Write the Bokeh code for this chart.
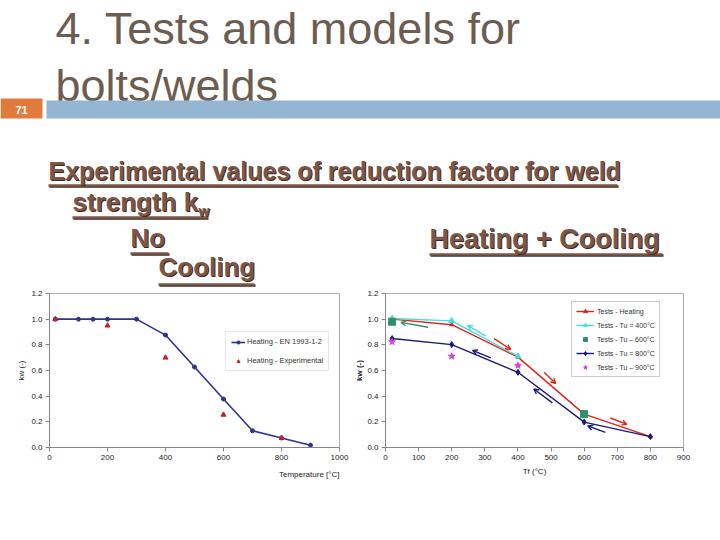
from bokeh.plotting import figure
from bokeh.layouts import column, row
from bokeh.models import Range1d, FixedTicker, PrintfTickFormatter, Title, Arrow, OpenHead, ColumnDataSource
from bokeh.core.properties import value
from bokeh.embed import file_html
from bokeh.resources import INLINE

FONT = "Liberation Sans"

# ---------------- data ----------------
# Left chart: no cooling
left_temp = [20, 100, 150, 200, 300, 400, 500, 600, 700, 800, 900]
left_kw_en = [1.0, 1.0, 1.0, 1.0, 1.0, 0.876, 0.627, 0.378, 0.130, 0.074, 0.018]
left_exp_temp = [20, 200, 400, 600, 800]
left_exp_kw = [1.0, 0.95, 0.70, 0.255, 0.075]

# Right chart: heating + cooling
heat_T = [20, 200, 400, 600, 800]
heat_k = [1.0, 0.957, 0.704, 0.26, 0.085]
tu400_T = [20, 200, 400]
tu400_k = [1.005, 0.987, 0.711]
tu600_T = [20, 600]
tu600_k = [0.98, 0.26]
tu800_T = [20, 200, 400, 600, 800]
tu800_k = [0.849, 0.802, 0.586, 0.198, 0.085]
tu900_T = [20, 200, 400]
tu900_k = [0.824, 0.711, 0.639]

# arrows (data coordinates)
red_arrow_xs = [328, 479, 679]
red_arrow_ys = [0.849, 0.586, 0.230]
red_arrow_xe = [378, 514, 729]
red_arrow_ye = [0.764, 0.499, 0.180]
navy_arrow_xs = [318, 504, 664]
navy_arrow_ys = [0.699, 0.348, 0.118]
navy_arrow_xe = [263, 448, 611]
navy_arrow_ye = [0.757, 0.456, 0.168]
cyan_arrow_xs = [303]
cyan_arrow_ys = [0.868]
cyan_arrow_xe = [248]
cyan_arrow_ye = [0.952]
green_arrow_xs = [129]
green_arrow_ys = [0.937]
green_arrow_xe = [47]
green_arrow_ye = [0.975]

left_xticks = [0, 200, 400, 600, 800, 1000]
right_xticks = [0, 100, 200, 300, 400, 500, 600, 700, 800, 900]
yticks = [0.0, 0.2, 0.4, 0.6, 0.8, 1.0, 1.2]

# ---------------- header (slide) ----------------
H = figure(width=720, height=289, x_range=Range1d(0, 720), y_range=Range1d(289, 0),
           output_backend="svg", toolbar_location=None, x_axis_type=None, y_axis_type=None,
           min_border=0, outline_line_color=None)
H.grid.visible = False


def base(yb, size):
    # place the alphabetic baseline of a text at yb
    return yb - 0.385 * size


title_col = "#6d5c52"
H.text(x=[55, 55], y=[base(45, 45), base(102, 45)], text=["4. Tests and models for", "bolts/welds"],
       text_font=value(FONT), text_font_size="45px", text_color=title_col,
       text_baseline="alphabetic")
H.quad(left=[0], right=[42], top=[98], bottom=[118], fill_color="#e07b3c", line_color=None)
H.quad(left=[46], right=[720], top=[100], bottom=[118], fill_color="#94b6d2", line_color=None)
H.text(x=[21], y=[109], text=["71"], text_font=value(FONT), text_font_size="11px",
       text_font_style="bold", text_color="white", text_align="center", text_baseline="middle")

sub_col = "#7d5646"
shadow_col = "#3b2b24"
sub_lines = [
    ("Experimental values of reduction factor for weld", 48, 180, 25, 617, 185),
    ("strength k", 72, 212, 26, 207, 217),
    ("No", 130, 248, 26, 168, 253),
    ("Cooling", 158, 277, 26, 254, 284),
    ("Heating + Cooling", 429, 249, 27, 662, 254),
]
for txt, x0, yb, fs, x1, yu in sub_lines:
    H.segment(x0=[x0 + 1], y0=[yu + 1], x1=[x1 + 1], y1=[yu + 1], line_color=shadow_col, line_width=2.5)
    H.segment(x0=[x0], y0=[yu], x1=[x1], y1=[yu], line_color=sub_col, line_width=2.5)
    H.text(x=[x0 + 1], y=[base(yb, fs) + 1], text=[txt], text_font=value(FONT), text_font_size=f"{fs}px",
           text_font_style="bold", text_color=shadow_col, text_baseline="alphabetic")
    H.text(x=[x0], y=[base(yb, fs)], text=[txt], text_font=value(FONT), text_font_size=f"{fs}px",
           text_font_style="bold", text_color=sub_col, text_baseline="alphabetic")
# subscript w
H.text(x=[198 + 1], y=[base(216, 14) + 1], text=["w"], text_font=value(FONT), text_font_size="14px",
       text_font_style="bold", text_color=shadow_col, text_baseline="alphabetic")
H.text(x=[198], y=[base(216, 14)], text=["w"], text_font=value(FONT), text_font_size="14px",
       text_font_style="bold", text_color=sub_col, text_baseline="alphabetic")


def style(p, xticks):
    p.xgrid.visible = False
    p.ygrid.visible = False
    p.outline_line_color = "#b0b0b0"
    for ax in (p.xaxis[0], p.yaxis[0]):
        ax.axis_line_color = "#868686"
        ax.major_tick_line_color = "#868686"
        ax.major_tick_out = 4
        ax.major_tick_in = 0
        ax.minor_tick_line_color = None
        ax.major_label_text_font = FONT
        ax.major_label_text_font_size = "8px"
        ax.major_label_text_color = "#222222"
        ax.axis_label_text_font = FONT
        ax.axis_label_text_font_size = "8px"
        ax.axis_label_text_font_style = "normal"
        ax.axis_label_text_color = "#222222"
    p.xaxis.ticker = FixedTicker(ticks=xticks)
    p.yaxis.ticker = FixedTicker(ticks=yticks)
    p.yaxis.formatter = PrintfTickFormatter(format="%.1f")
    p.xaxis.major_label_standoff = 3
    p.yaxis.major_label_standoff = 3


# ---------------- left chart ----------------
pL = figure(width=352, height=214, x_range=Range1d(0, 1000), y_range=Range1d(0, 1.2),
            output_backend="svg", toolbar_location=None,
            min_border_left=49, min_border_right=13, min_border_top=4, min_border_bottom=56)
style(pL, left_xticks)
pL.yaxis.axis_label = "kw (-)"
pL.yaxis.axis_label_standoff = 2
navyL = "#2e3588"
redL = "#c8202a"
pL.line(left_temp, left_kw_en, line_color=navyL, line_width=1.6, legend_label="Heating - EN 1993-1-2")
pL.scatter(left_temp, left_kw_en, marker="circle", size=4, color=navyL, legend_label="Heating - EN 1993-1-2")
pL.scatter(left_exp_temp, left_exp_kw, marker="triangle", size=5, color=redL, legend_label="Heating - Experimental")
tL = Title(text="Temperature [°C]", align="right", text_font=FONT, text_font_size="8px",
           text_font_style="normal", text_color="#222222")
pL.add_layout(tL, "below")
lg = pL.legend[0]
lg.location = (176, 76)
lg.label_text_font = FONT
lg.label_text_font_size = "7.5px"
lg.label_text_color = "#333333"
lg.glyph_width = 14
lg.glyph_height = 8
lg.label_height = 8
lg.label_standoff = 2
lg.spacing = 10
lg.padding = 5
lg.margin = 0
lg.border_line_color = "#d0d0d0"
lg.background_fill_alpha = 1.0

# ---------------- right chart ----------------
pR = figure(width=368, height=214, x_range=Range1d(0, 900), y_range=Range1d(0, 1.2),
            output_backend="svg", toolbar_location=None,
            min_border_left=32, min_border_right=37, min_border_top=4, min_border_bottom=51)
style(pR, right_xticks)
pR.yaxis.axis_label = "kw (-)"
pR.yaxis.axis_label_standoff = 0
pR.yaxis.axis_label_text_font_style = "bold"
pR.xaxis.axis_label = "Tf (°C)"
pR.xaxis.axis_label_standoff = 4

red = "#e3221c"
cyan = "#45dede"
green = "#2f8f6a"
navy = "#1a1a78"
magenta = "#d63fd6"

pR.line(heat_T, heat_k, line_color=red, line_width=1.4, legend_label="Tests - Heating")
pR.scatter(heat_T, heat_k, marker="triangle", size=4, color=red, legend_label="Tests - Heating")
pR.line(tu400_T, tu400_k, line_color=cyan, line_width=1.4, legend_label="Tests - Tu = 400°C")
pR.scatter(tu400_T, tu400_k, marker="triangle", size=6, color=cyan, legend_label="Tests - Tu = 400°C")
pR.scatter(tu600_T, tu600_k, marker="square", size=7, color=green, legend_label="Tests - Tu – 600°C")
pR.line(tu800_T, tu800_k, line_color=navy, line_width=1.4, legend_label="Tests - Tu = 800°C")
pR.scatter(tu800_T, tu800_k, marker="diamond", size=6, color=navy, legend_label="Tests - Tu = 800°C")
pR.scatter(tu900_T, tu900_k, marker="star", size=7, color=magenta, legend_label="Tests - Tu – 900°C")


def add_arrows(p, xs, ys, xe, ye, col):
    src = ColumnDataSource(dict(xs=xs, ys=ys, xe=xe, ye=ye))
    p.add_layout(Arrow(end=OpenHead(size=5, line_color=col, line_width=1.4),
                       x_start="xs", y_start="ys", x_end="xe", y_end="ye", source=src,
                       line_color=col, line_width=1.4))


add_arrows(pR, red_arrow_xs, red_arrow_ys, red_arrow_xe, red_arrow_ye, red)
add_arrows(pR, navy_arrow_xs, navy_arrow_ys, navy_arrow_xe, navy_arrow_ye, navy)
add_arrows(pR, cyan_arrow_xs, cyan_arrow_ys, cyan_arrow_xe, cyan_arrow_ye, cyan)
add_arrows(pR, green_arrow_xs, green_arrow_ys, green_arrow_xe, green_arrow_ye, green)

lr = pR.legend[0]
lr.location = (186, 70)
lr.label_text_font = FONT
lr.label_text_font_size = "7px"
lr.label_text_color = "#333333"
lr.glyph_width = 18
lr.glyph_height = 10
lr.label_height = 10
lr.label_standoff = 3
lr.spacing = 4
lr.padding = 4
lr.margin = 0
lr.border_line_color = "#999999"
lr.background_fill_alpha = 1.0

layout = column(H, row(pL, pR))
open("out.html", "w").write(file_html(layout, INLINE))
